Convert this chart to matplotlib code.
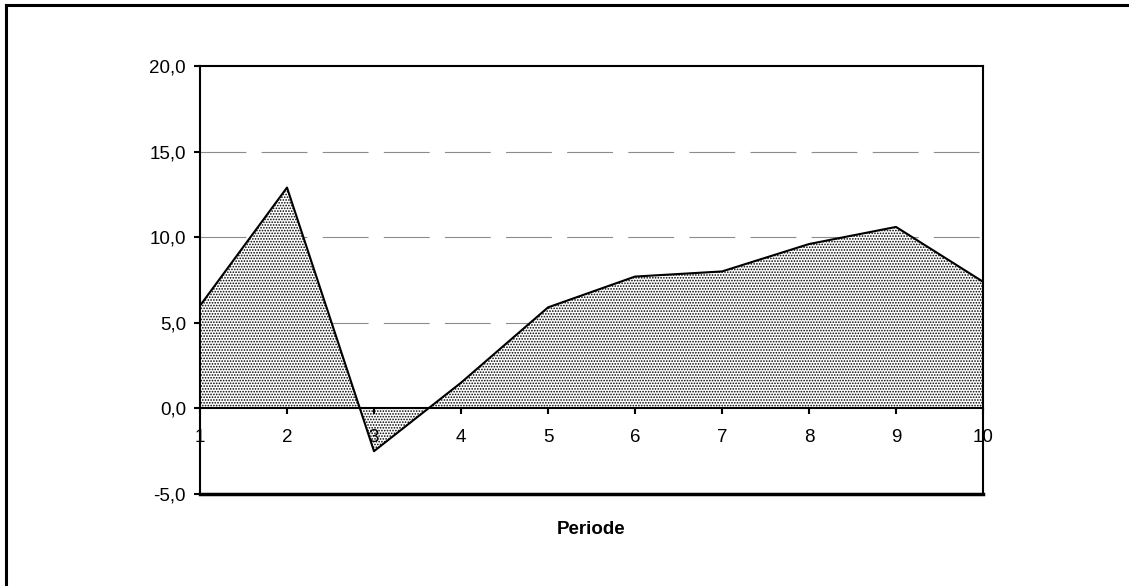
import numpy as np
import matplotlib as m
m.use('Agg')
import matplotlib.pyplot as plt
from matplotlib.ticker import FuncFormatter

periods = [1, 2, 3, 4, 5, 6, 7, 8, 9, 10]
values = [6.0, 12.9, -2.5, 1.5, 5.9, 7.7, 8.0, 9.6, 10.6, 7.4]
yticks = [-5, 0, 5, 10, 15, 20]
gridlevels = [5, 10, 15]

plt.rcParams['font.family'] = ['Liberation Sans', 'DejaVu Sans']
plt.rcParams['lines.scale_dashes'] = False
plt.rcParams['hatch.linewidth'] = 0.8


def main():
  fig = plt.figure(figsize=(11.29, 5.86), dpi=100)
  # outer chart border (only top/left visible in the picture)
  fig.add_artist(plt.Line2D([6/1129, 6/1129], [0, 1-5/586], color='black', lw=2.2))
  fig.add_artist(plt.Line2D([6/1129, 1], [1-5/586, 1-5/586], color='black', lw=2.2))

  ax = fig.add_axes([200/1129, 1-494/586, 783/1129, 428/586])
  ax.set_xlim(1, 10)
  ax.set_ylim(-5, 20)

  for g in gridlevels:
    ax.axhline(g, color='#8c8c8c', lw=0.8, dashes=(33, 11), zorder=0.8)

  ax.fill_between(periods, values, 0, facecolor='white', edgecolor='black',
                  hatch='......', lw=0, zorder=1.2)
  ax.plot(periods, values, color='black', lw=1.5, zorder=3)

  for s in ax.spines.values():
    s.set_linewidth(1.5)
  ax.spines['bottom'].set_position(('data', 0))
  ax.spines['bottom'].set_zorder(4)
  ax.axhline(-5, color='black', lw=2.5, clip_on=False, zorder=5)

  ax.set_yticks(yticks)
  ax.yaxis.set_major_formatter(FuncFormatter(lambda v, p: ('%.1f' % v).replace('.', ',')))
  ax.set_xticks(periods)
  ax.tick_params(axis='y', direction='out', length=4, width=1.5, pad=6, labelsize=13.5)
  ax.tick_params(axis='x', direction='out', length=4, width=1.5, pad=11, labelsize=13.5)

  fig.text(591/1129, 1-530/586, 'Periode', ha='center', va='center',
           fontsize=13.5, fontweight='bold')
  plt.savefig('out.png', dpi=100)


if __name__ == '__main__':
  main()
